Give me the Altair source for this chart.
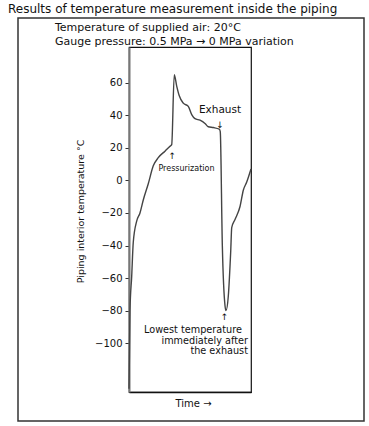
import altair as alt
import pandas as pd

# Temperature trace inside the piping (time in arbitrary units 0-100, temperature in °C)
time = [0, 0.8, 2.2, 3.5, 6.3, 9.0, 11.7, 15.8, 19.9, 24.0, 29.5, 33.6, 35.0,
        37.1, 39.1, 41.2, 44.5, 48.6, 51.4, 54.1, 58.2, 62.3, 65.0, 69.1, 74.0,
        74.8, 76.5, 78.7, 79.5, 81.4, 83.4, 84.2, 86.9, 91.0, 93.7, 96.5, 100]
temperature = [-128, -80, -59, -38, -25, -20, -12, -2, 9, 14, 18, 21, 22,
               65, 58, 52, 47.5, 45.5, 40.5, 38, 37, 35, 33, 32.5, 31.5,
               30, -40, -77, -80, -71, -43, -29, -24, -16, -6, -1, 7]

y_ticks = [-100, -80, -60, -40, -20, 0, 20, 40, 60]

# Annotations placed in data coordinates
note_text = ["Exhaust", "↓", "Pressurization", "↑", "↑"]
note_time = [74.6, 74.6, 47.1, 35.5, 78.3]
note_temp = [43.5, 34.0, 6.9, 14.8, -84.0]
note_size = [10.5, 9, 8, 9, 9]

low_text = ["Lowest temperature", "immediately after", "the exhaust"]
low_time = [12.3, 97.5, 97.5]
low_temp = [-91.9, -98.6, -104.8]
low_align = ["left", "right", "right"]

title_text = "Results of temperature measurement inside the piping"
subtitle_lines = ["Temperature of supplied air: 20°C",
                  "Gauge pressure: 0.5 MPa → 0 MPa variation"]

FONT = "DejaVu Sans"

trace = pd.DataFrame({"time": time, "temp": temperature})
notes = pd.DataFrame({"time": note_time, "temp": note_temp,
                      "label": note_text, "size": note_size})
low = pd.DataFrame({"time": low_time, "temp": low_temp,
                    "label": low_text, "align": low_align})

x_scale = alt.Scale(domain=[0, 100], nice=False, zero=False)
y_scale = alt.Scale(domain=[-130, 82], nice=False, zero=False)

line = alt.Chart(trace).mark_line(
    color="#444", strokeWidth=1.4, interpolate="monotone"
).encode(
    x=alt.X("time:Q", scale=x_scale,
            axis=alt.Axis(title="Time →", labels=False, ticks=False, grid=False,
                          domainColor="#111", domainWidth=1.5,
                          titleFont=FONT, titleFontSize=10, titleFontWeight="normal",
                          titleColor="#111", titlePadding=6, titleX=64)),
    y=alt.Y("temp:Q", scale=y_scale,
            axis=alt.Axis(title="Piping interior temperature  °C", values=y_ticks,
                          grid=False, tickSize=4, tickColor="#333",
                          domainColor="#777", domainWidth=2,
                          labelFont=FONT, labelFontSize=10, labelColor="#111",
                          labelPadding=3,
                          titleFont=FONT, titleFontSize=9.5, titleFontWeight="normal",
                          titleColor="#111", titleX=-49, titleY=164,
                          titleAlign="center", titleBaseline="middle")),
)

note_layer = alt.Chart(notes).mark_text(
    font=FONT, color="#111", align="center", baseline="middle"
).encode(
    x="time:Q", y="temp:Q", text="label:N",
    size=alt.Size("size:Q", scale=None, legend=None),
)

low_left = alt.Chart(low[low["align"] == "left"]).mark_text(
    font=FONT, fontSize=9.7, color="#111", align="left", baseline="middle"
).encode(x="time:Q", y="temp:Q", text="label:N")

low_right = alt.Chart(low[low["align"] == "right"]).mark_text(
    font=FONT, fontSize=9.7, color="#111", align="right", baseline="middle"
).encode(x="time:Q", y="temp:Q", text="label:N")

# Heading block and the enclosing frame, positioned relative to the plot area
head = alt.Chart(pd.DataFrame({"t": [title_text]})).mark_text(
    font=FONT, fontSize=12, color="#111", align="left", baseline="middle"
).encode(x=alt.value(-121), y=alt.value(-38.5), text="t:N")

sub1 = alt.Chart(pd.DataFrame({"t": [subtitle_lines[0]]})).mark_text(
    font=FONT, fontSize=11, color="#111", align="left", baseline="middle"
).encode(x=alt.value(-74), y=alt.value(-18.7), text="t:N")

sub2 = alt.Chart(pd.DataFrame({"t": [subtitle_lines[1]]})).mark_text(
    font=FONT, fontSize=11, color="#111", align="left", baseline="middle"
).encode(x=alt.value(-74), y=alt.value(-5.3), text="t:N")

frame = alt.Chart(pd.DataFrame({"f": [0]})).mark_rect(
    fill=None, stroke="#333", strokeWidth=1.5
).encode(x=alt.value(-111), x2=alt.value(235), y=alt.value(-29), y2=alt.value(374))

chart = alt.layer(
    frame, line, note_layer, low_left, low_right, head, sub1, sub2
).properties(
    width=122, height=345,
    autosize=alt.AutoSizeParams(type="none"),
    padding={"left": 129, "top": 47, "right": 118, "bottom": 34},
    background="white",
).configure_view(
    stroke="#111", strokeWidth=1.2
)

chart.save("out.html", embed_options={"renderer": "svg", "actions": False})
